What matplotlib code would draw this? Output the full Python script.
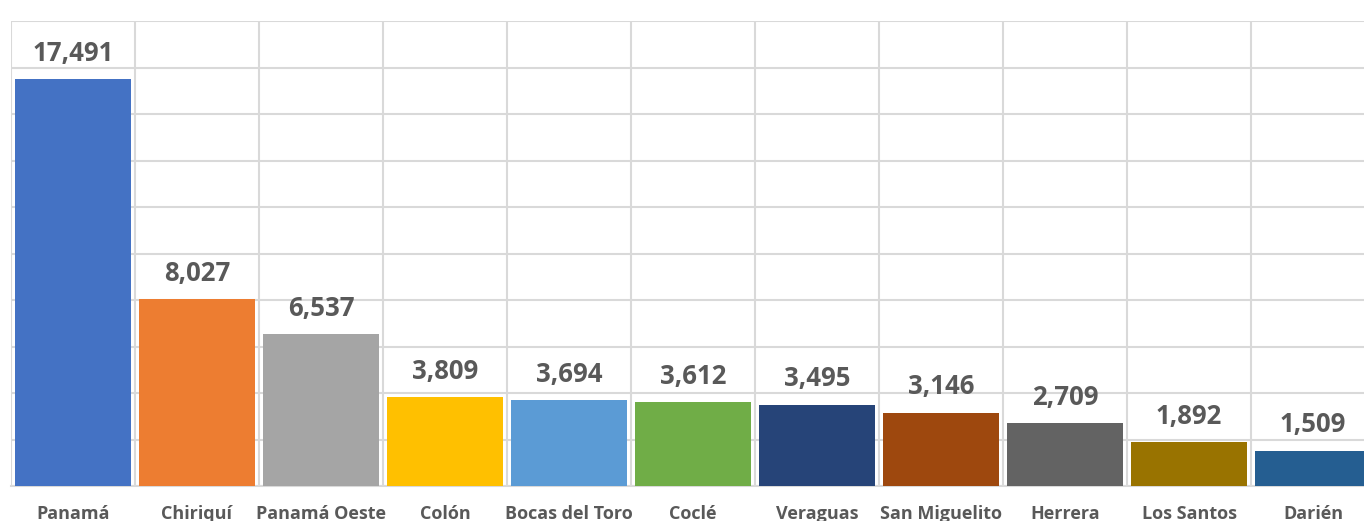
import numpy as np
import matplotlib.pyplot as plt

provinces = ["Panamá", "Chiriquí", "Panamá Oeste", "Colón", "Bocas del Toro", "Coclé",
             "Veraguas", "San Miguelito", "Herrera", "Los Santos", "Darién"]
values = [17491, 8027, 6537, 3809, 3694, 3612, 3495, 3146, 2709, 1892, 1509]
colors = ["#4472C4", "#ED7D31", "#A5A5A5", "#FFC000", "#5B9BD5", "#70AD47",
          "#264478", "#9E480E", "#636363", "#997300", "#255E91"]

grid_color = "#D9D9D9"
text_color = "#595959"

fig = plt.figure(figsize=(13.64, 5.21), dpi=100)
# plot area runs past the right edge, like the cropped original
ax = fig.add_axes([11 / 1364, 35 / 521, 1364 / 1364, 465 / 521])

x = np.arange(len(provinces))
bars = ax.bar(x, values, width=0.94, color=colors, zorder=3)

ax.set_xlim(-0.5, len(provinces) - 0.5)
ax.set_ylim(0, 20000)

ax.set_yticks(np.arange(0, 20001, 2000))
ax.set_xticks(np.arange(-0.5, len(provinces), 1), minor=True)
ax.grid(axis="y", color=grid_color, linewidth=1.5, zorder=0)
ax.grid(axis="x", which="minor", color=grid_color, linewidth=1.5, zorder=0)
ax.tick_params(axis="y", length=0, labelleft=False)
ax.tick_params(axis="x", which="both", length=0)

ax.set_xticks(x)
ax.set_xticklabels(provinces, fontfamily="Open Sans", fontweight="bold",
                   fontsize=13, color=text_color)
ax.tick_params(axis="x", pad=14)

for s in ["top", "right", "left"]:
    ax.spines[s].set_visible(False)
ax.spines["bottom"].set_color(grid_color)
ax.spines["bottom"].set_linewidth(1.5)

for xi, v in zip(x, values):
    ax.annotate(f"{v:,}", (xi, v), xytext=(0, 26), textcoords="offset pixels",
                ha="center", va="center", fontfamily="Open Sans",
                fontweight="bold", fontsize=18.5, color=text_color, zorder=4)

fig.savefig("out.png", dpi=100)
